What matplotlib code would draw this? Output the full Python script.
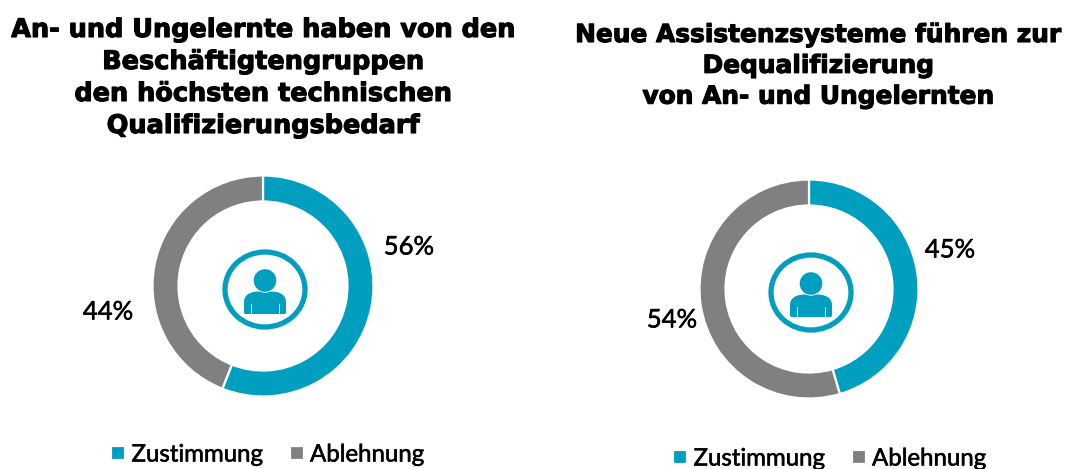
import matplotlib
matplotlib.use("Agg")
import matplotlib.pyplot as plt
import matplotlib.patheffects as pe
from matplotlib.patches import Circle, Ellipse, PathPatch
from matplotlib.path import Path

categories = ["Zustimmung", "Ablehnung"]
values_left = [56, 44]
values_right = [45, 54]
labels_left = ["56%", "44%"]
labels_right = ["45%", "54%"]
title_left = "An- und Ungelernte haben von den\nBeschäftigtengruppen\nden höchsten technischen\nQualifizierungsbedarf"
title_right = "Neue Assistenzsysteme führen zur\nDequalifizierung\nvon An- und Ungelernten"
colors = ["#009EBF", "#808080"]

W, H = 1077, 469
fig = plt.figure(figsize=(W / 100, H / 100), dpi=100, facecolor="white")
LABEL_FONT = "Lato"
thin = [pe.withStroke(linewidth=0.4, foreground="black")]
heavy = [pe.withStroke(linewidth=0.8, foreground="black")]


def donut(cx, cy, r, values, labels, label_xy, title, title_xy, title_size, title_spacing, legend_xy):
    ax = fig.add_axes([(cx - r) / W, 1 - (cy + r) / H, 2 * r / W, 2 * r / H])
    wedges, _ = ax.pie(
        values, colors=colors, startangle=90, counterclock=False, radius=1,
        wedgeprops=dict(width=26 / r, edgecolor="white", linewidth=1.6),
    )
    ax.set_xlim(-1, 1)
    ax.set_ylim(-1, 1)
    ax.set_aspect("equal")
    ax.axis("off")

    # central person icon
    u = 1 / r
    ix, iy = 2 * u, -3.5 * u
    ax.add_patch(Ellipse((ix, iy), 80 * u, 75 * u, fill=False, edgecolor=colors[0], linewidth=3.8))
    ax.add_patch(Circle((ix, iy + 9 * u), 11.3 * u, color=colors[0], lw=0))
    x0, x1, y0, y1 = ix - 21 * u, ix + 21 * u, iy - 24.5 * u, iy - 2 * u
    verts = [(x0 + 1.5 * u, y0), (x0, y0), (x0, y0 + 2 * u), (x0, y0 + 12 * u),
             (x0, y1), (x0 + 13 * u, y1), (ix - 6 * u, y1),
             (ix, y1 - 1.5 * u), (ix + 6 * u, y1),
             (x1 - 13 * u, y1), (x1, y1), (x1, y0 + 12 * u), (x1, y0 + 2 * u),
             (x1, y0), (x1 - 1.5 * u, y0), (x0 + 1.5 * u, y0)]
    codes = [Path.MOVETO, Path.CURVE3, Path.CURVE3, Path.LINETO,
             Path.CURVE4, Path.CURVE4, Path.CURVE4,
             Path.LINETO, Path.LINETO,
             Path.CURVE4, Path.CURVE4, Path.CURVE4, Path.LINETO,
             Path.CURVE3, Path.CURVE3, Path.LINETO]
    ax.add_patch(PathPatch(Path(verts, codes), facecolor=colors[0], edgecolor="none"))
    for dx in (-14, 14):
        ax.plot([ix + dx * u, ix + dx * u], [y0, y0 + 10 * u], color="white", lw=0.6)

    for text, (x, y) in zip(labels, label_xy):
        fig.text(x / W, 1 - y / H, text, ha="center", va="center",
                 fontsize=18.5, family=LABEL_FONT, color="black", path_effects=thin)

    fig.text(title_xy[0] / W, 1 - title_xy[1] / H, title, ha="center", va="top",
             fontsize=title_size, fontweight="bold", family="DejaVu Sans", color="black",
             linespacing=title_spacing, path_effects=heavy)

    leg = fig.legend(wedges, categories, loc="center", ncol=2,
                     bbox_to_anchor=(legend_xy[0] / W, 1 - legend_xy[1] / H),
                     frameon=False, prop=dict(family=LABEL_FONT, size=17.3),
                     handlelength=0.58, handleheight=0.58, handletextpad=0.26,
                     columnspacing=1.1, borderpad=0, borderaxespad=0)
    for t in leg.get_texts():
        t.set_path_effects(thin)


donut(263, 286, 110.5, values_left, labels_left, [(409, 247), (108, 312)],
      title_left, (263, 17), 18.4, 1.3, (268, 455))
donut(809, 289, 109.5, values_right, labels_right, [(950, 250), (672, 320)],
      title_right, (819, 23), 17.9, 1.36, (830, 459))

fig.savefig("out.png", dpi=100, facecolor="white")
